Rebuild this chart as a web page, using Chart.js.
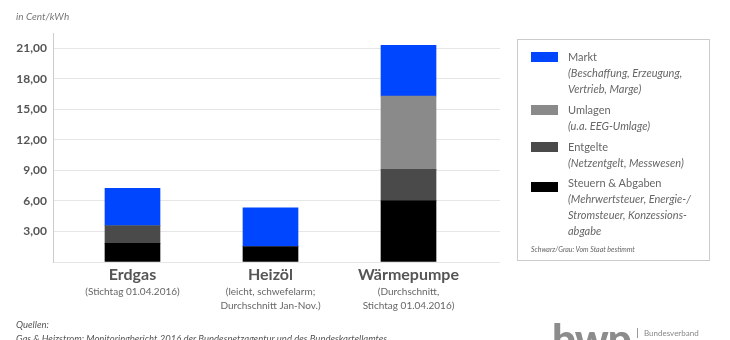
<!DOCTYPE html>
<html>
<head>
<meta charset="utf-8">
<script src="https://cdn.jsdelivr.net/npm/chart.js@4"></script>
<style>
  html, body { margin: 0; padding: 0; background: #fff; }
  #wrap { position: relative; width: 730px; height: 340px; overflow: hidden; font-family: Lato, "Open Sans", sans-serif; color: #555; }
  #chart { position: absolute; left: 0; top: 0; }
  .unit { position: absolute; left: 16px; top: 10px; font-size: 10px; font-style: italic; color: #777; }
  .legend { position: absolute; left: 517px; top: 39px; width: 193px; height: 222px; border: 1px solid #ccc; box-sizing: border-box; }
  .item { position: absolute; left: 13px; }
  .sw { position: absolute; left: 0; width: 27px; height: 10px; }
  .txt { position: absolute; left: 37px; white-space: nowrap; font-size: 11px; line-height: 16px; color: #666; }
  .txt i { display: block; }
  .note { position: absolute; left: 13px; top: 205px; font-size: 7px; font-style: italic; color: #666; white-space: nowrap; }
  .src { position: absolute; left: 16px; top: 318px; font-size: 9.5px; font-style: italic; color: #555; line-height: 14px; white-space: nowrap; }
  .logo { position: absolute; left: 552px; top: 313px; font-size: 42px; font-weight: 900; color: #8c8c8c; letter-spacing: -1px; }
  .bv { position: absolute; left: 637px; top: 328px; border-left: 1px solid #999; padding-left: 6px; font-size: 8px; color: #888; }
</style>
</head>
<body>
<div id="wrap">
  <canvas id="chart" width="730" height="340"></canvas>
  <div class="unit">in Cent/kWh</div>
  <div class="legend">
    <div class="item" style="top:12px"><div class="sw" style="background:#0046ff"></div>
      <div class="txt" style="top:-3px">Markt<i>(Beschaffung, Erzeugung,</i><i>Vertrieb, Marge)</i></div></div>
    <div class="item" style="top:65px"><div class="sw" style="background:#8a8a8a"></div>
      <div class="txt" style="top:-3px">Umlagen<i>(u.a. EEG-Umlage)</i></div></div>
    <div class="item" style="top:102px"><div class="sw" style="background:#4a4a4a"></div>
      <div class="txt" style="top:-3px">Entgelte<i>(Netzentgelt, Messwesen)</i></div></div>
    <div class="item" style="top:142px"><div class="sw" style="background:#000"></div>
      <div class="txt" style="top:-7px">Steuern &amp; Abgaben<i>(Mehrwertsteuer, Energie-/</i><i>Stromsteuer, Konzessions-</i><i>abgabe</i></div></div>
    <div class="note">Schwarz/Grau: Vom Staat bestimmt</div>
  </div>
  <div class="src">Quellen:<br>Gas &amp; Heizstrom: Monitoringbericht 2016 der Bundesnetzagentur und des Bundeskartellamtes</div>
  <div class="logo">bwp</div>
  <div class="bv">Bundesverband</div>
</div>
<script>
// Kategorien und Unterzeilen
const categories = ["Erdgas", "Heizöl", "Wärmepumpe"];
const subLines = [
  ["(Stichtag 01.04.2016)"],
  ["(leicht, schwefelarm;", "Durchschnitt Jan-Nov.)"],
  ["(Durchschnitt,", "Stichtag 01.04.2016)"]
];

// Preisbestandteile in Cent/kWh, von unten nach oben gestapelt
const steuern  = [1.83, 1.50, 6.00];
const entgelte = [1.73, 0.00, 3.10];
const umlagen  = [0.00, 0.00, 7.19];
const markt    = [3.67, 3.83, 5.01];

const yTicks = [0, 3, 6, 9, 12, 15, 18, 21];

function series(values) {
  return values.map((v, i) => ({ x: i, y: v }));
}

// Kategorienamen unter den Balken zeichnen
const categoryLabels = {
  id: "categoryLabels",
  afterDraw(chart) {
    const ctx = chart.ctx;
    const xs = chart.scales.x;
    ctx.save();
    ctx.textAlign = "center";
    ctx.textBaseline = "middle";
    categories.forEach((name, i) => {
      const x = xs.getPixelForValue(i);
      ctx.fillStyle = "#555";
      ctx.font = "bold 16px Lato, sans-serif";
      ctx.fillText(name, x, 275);
      ctx.fillStyle = "#666";
      ctx.font = "10px Lato, sans-serif";
      subLines[i].forEach((line, j) => ctx.fillText(line, x, 292 + j * 13.5));
    });
    ctx.restore();
  }
};

new Chart(document.getElementById("chart"), {
  type: "bar",
  data: {
    datasets: [
      { label: "Steuern & Abgaben", data: series(steuern), backgroundColor: "#000000" },
      { label: "Entgelte", data: series(entgelte), backgroundColor: "#4a4a4a" },
      { label: "Umlagen", data: series(umlagen), backgroundColor: "#8a8a8a" },
      { label: "Markt", data: series(markt), backgroundColor: "#0046ff" }
    ]
  },
  options: {
    responsive: false,
    animation: false,
    barThickness: 55,
    layout: { padding: { top: 33, bottom: 78, left: 0, right: 230 } },
    plugins: { legend: { display: false }, tooltip: { enabled: false } },
    scales: {
      x: {
        type: "linear",
        stacked: true,
        offset: false,
        min: -0.576,
        max: 2.663,
        display: false
      },
      y: {
        stacked: true,
        min: 0,
        max: 22.5,
        afterFit(scale) { scale.width = 53; },
        afterBuildTicks(scale) { scale.ticks = yTicks.map(v => ({ value: v })); },
        border: { color: "#cccccc" },
        grid: { color: "#e6e6e6", drawTicks: false },
        ticks: {
          padding: 6,
          color: "#555",
          font: { family: "Lato", size: 12, weight: "bold" },
          callback: v => v === 0 ? "" : v.toFixed(2).replace(".", ",")
        }
      }
    }
  },
  plugins: [categoryLabels]
});
</script>
</body>
</html>
